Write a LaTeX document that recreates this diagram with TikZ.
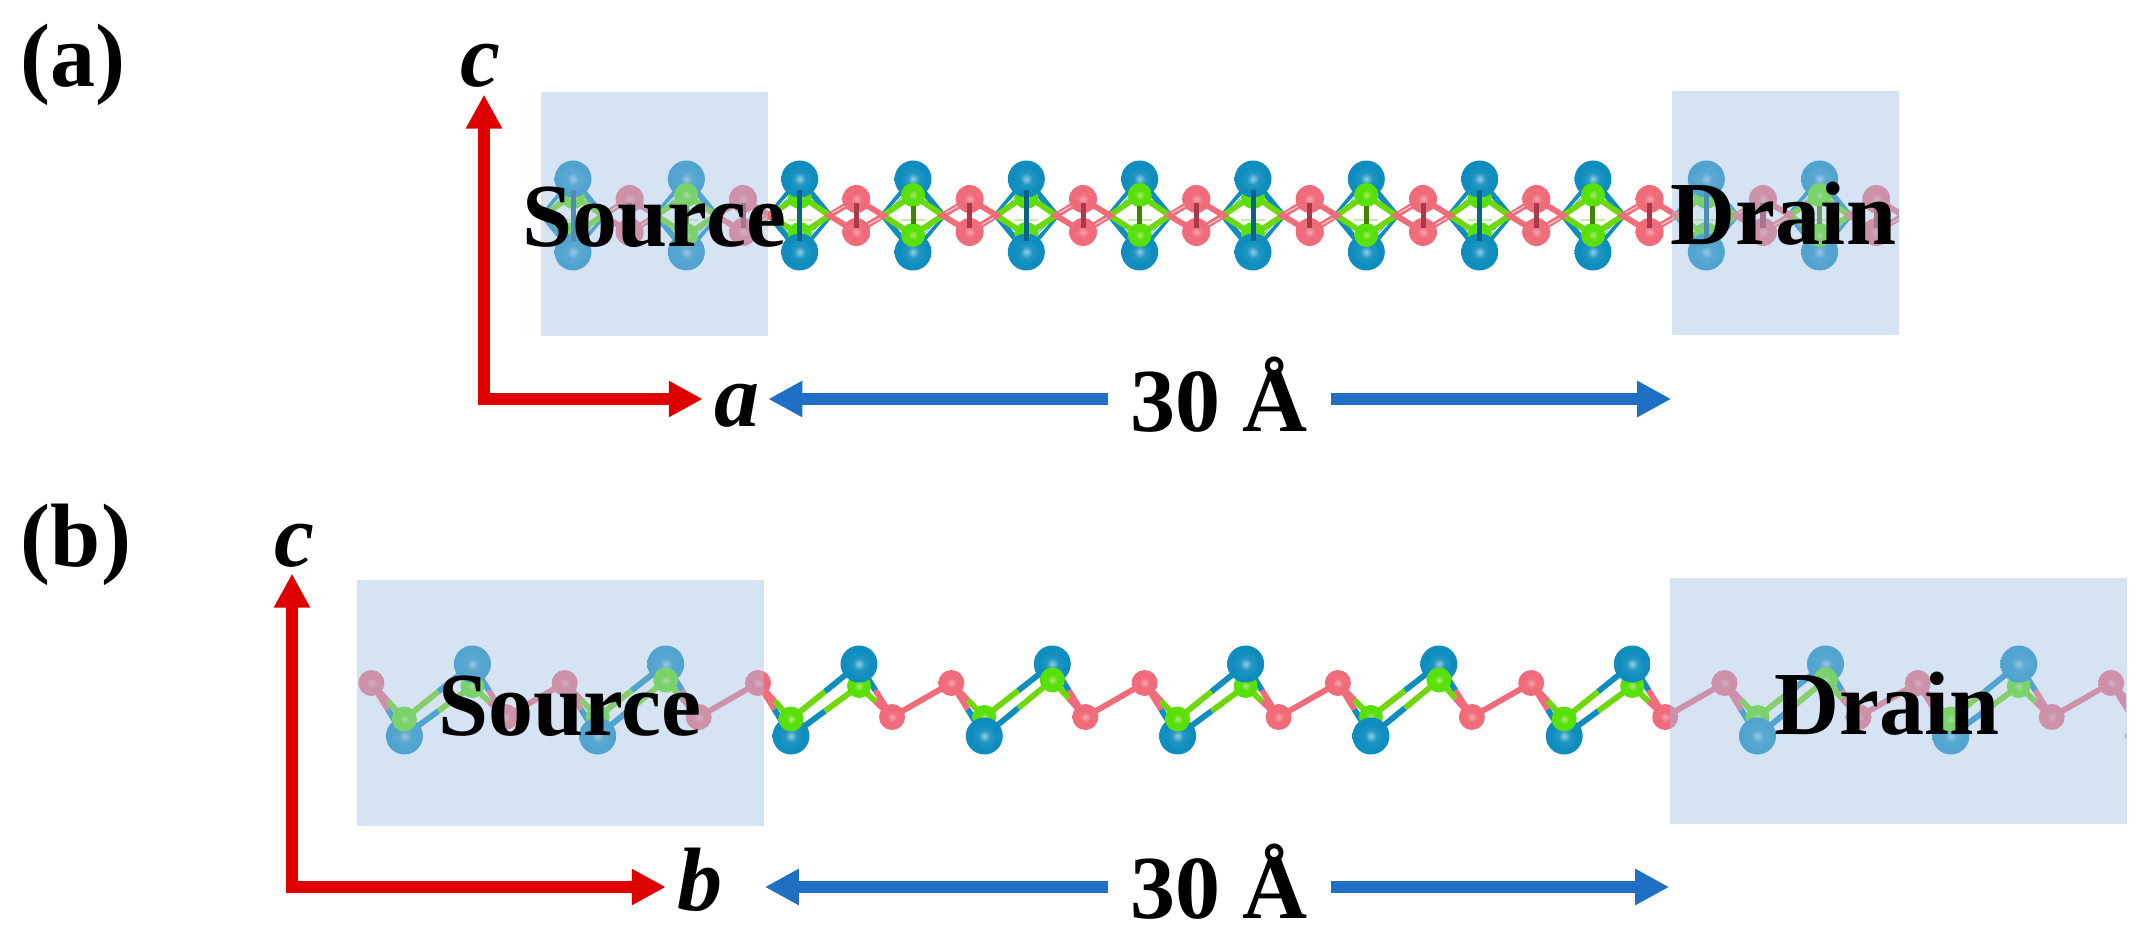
\documentclass[tikz,border=0pt]{standalone}
\usepackage{fontspec}
\setmainfont{Liberation Serif}
\usetikzlibrary{arrows.meta}
\usetikzlibrary{calc}
\definecolor{metalblue}{HTML}{0E8DBE}
\definecolor{metaldark}{HTML}{0A6488}
\definecolor{ligandgreen}{HTML}{6FD80A}
\definecolor{oxred}{HTML}{F06C7A}
\definecolor{oxdark}{HTML}{A83A4C}
\definecolor{overlayblue}{HTML}{A4C1E5}
\definecolor{axisred}{HTML}{DE0000}
\definecolor{lenblue}{HTML}{1F70C4}
\pgfdeclareradialshading{sphblue}{\pgfpointorigin}{color(0bp)=(metalblue!45!white); color(8bp)=(metalblue!92!white); color(18bp)=(metalblue); color(44bp)=(metalblue); color(50bp)=(metaldark)}
\pgfdeclareradialshading{sphgreen}{\pgfpointorigin}{color(0bp)=(ligandgreen!55!white); color(10bp)=(ligandgreen!80!green); color(44bp)=(ligandgreen!80!green); color(50bp)=(ligandgreen!70!black)}
\pgfdeclareradialshading{sphred}{\pgfpointorigin}{color(0bp)=(oxred!60!white); color(10bp)=(oxred); color(44bp)=(oxred); color(50bp)=(oxred!85!black)}
\tikzset{
	blueball/.style={shading=sphblue},
	greenball/.style={shading=sphgreen},
	redball/.style={shading=sphred},
	bondline/.style={line width=.058cm},
	hairline/.style={line width=.012cm, white},
	stick/.style={line width=.05cm},
	panelbox/.style={draw=none, fill=overlayblue, fill opacity=.45, inner sep=0pt},
	bigtext/.style={font=\fontsize{25.6}{30}\selectfont\bfseries, inner sep=0pt, anchor=base},
	axislabel/.style={font=\fontsize{25.6}{30}\selectfont\bfseries\itshape, inner xsep=.11cm, inner ysep=.06cm, anchor=base},
	axisarrow/.style={draw=axisred, line width=.115cm, miter limit=10, {Triangle[length=.34cm,width=.34cm]}-{Triangle[length=.34cm,width=.34cm]}},
	lenarrow/.style={draw=lenblue, line width=.12cm, -{Triangle[length=.34cm,width=.34cm]}},
}
\newcommand{\halfbond}[4]{
	\draw[bondline,#3] (#1) -- ($(#1)!.5!(#2)$);
	\draw[bondline,#4] ($(#1)!.5!(#2)$) -- (#2);
}
\begin{document}
\begin{tikzpicture}[x=.01cm, y=-.01cm]
	\useasboundingbox (0,0) rectangle (2146,946);
	\begin{scope}
		\clip (542,92) rectangle (1899,336);
		\foreach \k in {0,...,11}{
			\pgfmathsetmacro{\x}{573+113.33*\k}
			\pgfmathsetmacro{\xl}{\x-30}
			\pgfmathsetmacro{\xr}{\x+30}
			\draw[bondline,metalblue] (\xl,215.5) -- (\x,179) -- (\xr,215.5) -- (\x,252) -- cycle;
			\draw[hairline] (\xl+3,213) -- (\x-5,189);
			\draw[hairline] (\xr-3,218) -- (\x+5,242);
			\draw[bondline,ligandgreen] (\xl,215.5) -- (\x,195) -- (\xr,215.5) -- (\x,235) -- cycle;
			\draw[hairline,ligandgreen!40!white] (\x-12,220) -- (\x+12,220);
		}
		\foreach \k in {0,...,11}{
			\pgfmathsetmacro{\x}{629.67+113.33*\k}
			\pgfmathsetmacro{\xl}{\x-27}
			\pgfmathsetmacro{\xr}{\x+27}
			\draw[bondline,oxred] (\xl,215.5) -- (\x,199) -- (\xr,215.5) -- (\x,232) -- cycle;
			\draw[hairline,oxred!35!white] (\xl+3,213) -- (\x-6,203);
			\draw[hairline,oxred!35!white] (\xr-3,218) -- (\x+6,228);
			\shade[redball] (\x,199) circle (14);
			\shade[redball] (\x,232) circle (14);
			\draw[stick,oxdark] (\x,203) -- (\x,228);
		}
		\foreach \k in {0,...,11}{
			\pgfmathsetmacro{\x}{573+113.33*\k}
			\pgfmathtruncatemacro{\odd}{mod(\k,2)}
			\ifnum\odd=0
				\shade[greenball] (\x,197) circle (12);
				\shade[greenball] (\x,234) circle (12);
				\shade[blueball] (\x,179) circle (18.5);
				\shade[blueball] (\x,252) circle (18.5);
				\draw[stick,metaldark] (\x,190) -- (\x,241);
			\else
				\shade[blueball] (\x,179) circle (18.5);
				\shade[blueball] (\x,252) circle (18.5);
				\draw[stick,metaldark] (\x,190) -- (\x,241);
				\shade[greenball] (\x,195) circle (12);
				\shade[greenball] (\x,235) circle (12);
				\draw[stick,ligandgreen!60!black] (\x,206) -- (\x,224);
			\fi
		}
	\end{scope}
	\begin{scope}
		\clip (357,579) rectangle (2126,826);
		\foreach \k in {-2,...,7}{
			\pgfmathsetmacro{\xup}{758+193.3*\k}
			\pgfmathsetmacro{\xlow}{892+193.3*\k}
			\pgfmathsetmacro{\xbot}{791+193.3*\k}
			\pgfmathsetmacro{\xtop}{859+193.3*\k}
			\pgfmathtruncatemacro{\odd}{mod(\k+2,2)}
			\ifnum\odd=0
				\coordinate (gbot) at (\xbot,719);
				\coordinate (gtop) at (\xtop,686);
			\else
				\coordinate (gbot) at (\xbot,717);
				\coordinate (gtop) at (\xtop,680);
			\fi
			\coordinate (bbot) at (\xbot,736);
			\coordinate (btop) at (\xtop,664);
			\coordinate (rup) at (\xup,683);
			\coordinate (rlow) at (\xlow,717);
			\coordinate (rnext) at (\xup+193.3,683);
			\halfbond{gbot}{btop}{ligandgreen}{metalblue}
			\halfbond{bbot}{gtop}{metalblue}{ligandgreen}
			\halfbond{rup}{bbot}{oxred}{metalblue}
			\halfbond{rup}{gbot}{oxred}{ligandgreen}
			\halfbond{btop}{rlow}{metalblue}{oxred}
			\halfbond{gtop}{rlow}{ligandgreen}{oxred}
			\draw[bondline,oxred] (rlow) -- (rnext);
			\shade[redball] (rup) circle (13);
			\shade[redball] (rlow) circle (13);
			\ifnum\odd=0
				\shade[greenball] (gtop) circle (12);
				\shade[blueball] (btop) circle (18.5);
				\shade[blueball] (bbot) circle (18.5);
				\shade[greenball] (gbot) circle (12.5);
			\else
				\shade[greenball] (gbot) circle (12);
				\shade[blueball] (bbot) circle (18.5);
				\shade[blueball] (btop) circle (18.5);
				\shade[greenball] (gtop) circle (12.5);
			\fi
		}
	\end{scope}
	\node[panelbox, minimum width=2.26cm, minimum height=2.44cm] (srca) at (654.5,214) {};
	\node[panelbox, minimum width=2.27cm, minimum height=2.44cm] (draina) at (1785.5,213) {};
	\node[panelbox, minimum width=4.07cm, minimum height=2.45cm] (srcb) at (560.5,703) {};
	\node[panelbox, minimum width=4.57cm, minimum height=2.45cm] (drainb) at (1898.5,701) {};
	\node[bigtext] (srctxta) at (654.5,247) {Source};
	\node[bigtext] (draintxta) at (1783.5,245) {Drain};
	\node[bigtext] (srctxtb) at (570,735) {Source};
	\node[bigtext] (draintxtb) at (1887,734) {Drain};
	\node[bigtext] (tagp) at (73,87) {(a)};
	\node[bigtext] (tagq) at (76,566) {(b)};
	\coordinate (oa) at (484,399);
	\coordinate (ob) at (292,887);
	\node[axislabel] (ca) at (480,87) {c};
	\node[axislabel] (aa) at (737,426) {a};
	\node[axislabel] (cb) at (294,566) {c};
	\node[axislabel] (bb) at (700,910) {b};
	\draw[axisarrow] (ca.south -| oa) -- (oa) -- (aa.west |- oa);
	\draw[axisarrow] (cb.south -| ob) -- (ob) -- (bb.west |- ob);
	\node[bigtext, inner xsep=.22cm] (lena) at (1219,432) {30 Å};
	\node[bigtext, inner xsep=.22cm] (lenb) at (1219,918) {30 Å};
	\draw[lenarrow] (lena.west |- oa) -- (srca.east |- oa);
	\draw[lenarrow] (lena.east |- oa) -- (draina.west |- oa);
	\draw[lenarrow] (lenb.west |- ob) -- (srcb.east |- ob);
	\draw[lenarrow] (lenb.east |- ob) -- (drainb.west |- ob);
\end{tikzpicture}
\end{document}
